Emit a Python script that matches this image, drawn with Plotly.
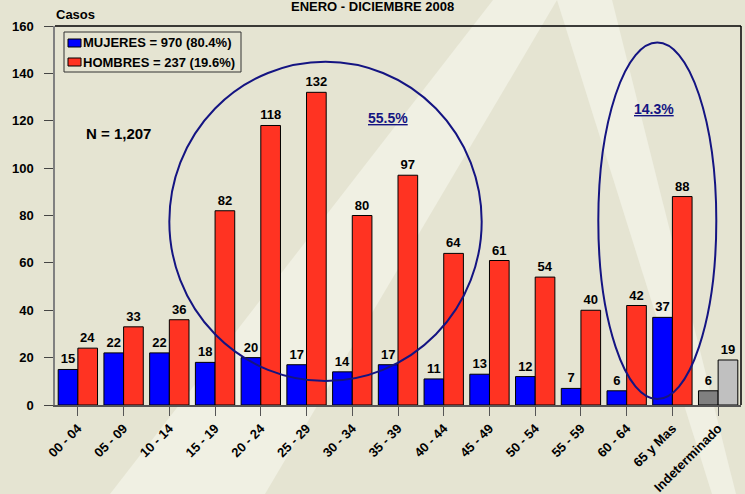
import plotly.graph_objects as go

# datos
categories = ['00 - 04', '05 - 09', '10 - 14', '15 - 19', '20 - 24', '25 - 29', '30 - 34',
              '35 - 39', '40 - 44', '45 - 49', '50 - 54', '55 - 59', '60 - 64', '65 y Mas',
              'Indeterminado']
mujeres = [15, 22, 22, 18, 20, 17, 14, 17, 11, 13, 12, 7, 6, 37, 6]
hombres = [24, 33, 36, 82, 118, 132, 80, 97, 64, 61, 54, 40, 42, 88, 19]
legend_labels = ['MUJERES = 970 (80.4%)', 'HOMBRES = 237 (19.6%)']
total_label = 'N = 1,207'
pct_labels = ['55.5%', '14.3%']
title_text = 'ENERO - DICIEMBRE 2008'
y_title = 'Casos'

W, H = 745, 494
ML, MR, MT, MB = 55, 4, 26, 89
PW, PH = W - ML - MR, H - MT - MB


def px(x):
    # pixel -> paper x
    return (x - ML) / PW


def py(y):
    # pixel -> paper y
    return (H - MB - y) / PH


BG = '#E5E4D2'
LIGHT = '#F0F0E3'
BLUE = '#0000FF'
RED = '#FF3322'
NAVY = '#141482'

mujeres_colors = [BLUE] * (len(categories) - 1) + ['#808080']
hombres_colors = [RED] * (len(categories) - 1) + ['#C0C0C0']

fig = go.Figure()

fig.add_trace(go.Bar(x=categories, y=mujeres, name=legend_labels[0],
                     marker=dict(color=mujeres_colors, line=dict(color='black', width=1)),
                     text=mujeres, textposition='outside', constraintext='none',
                     textfont=dict(size=13, color='black', weight='bold'),
                     cliponaxis=False, showlegend=False))
fig.add_trace(go.Bar(x=categories, y=hombres, name=legend_labels[1],
                     marker=dict(color=hombres_colors, line=dict(color='black', width=1)),
                     text=hombres, textposition='outside', constraintext='none',
                     textfont=dict(size=13, color='black', weight='bold'),
                     cliponaxis=False, showlegend=False))

shapes = []

# rayos claros del fondo
def poly(pts):
    return 'M ' + ' L '.join('{:.4f},{:.4f}'.format(px(a), py(b)) for a, b in pts) + ' Z'

shapes.append(dict(type='path', xref='paper', yref='paper', layer='below',
                   path=poly([(493, 0), (557, 0), (265, 494), (110, 494)]),
                   fillcolor=LIGHT, line=dict(width=0)))
shapes.append(dict(type='path', xref='paper', yref='paper', layer='below',
                   path=poly([(557, 0), (612, 0), (736, 494), (712, 494)]),
                   fillcolor=LIGHT, line=dict(width=0)))

# marco superior y derecho
shapes.append(dict(type='line', xref='paper', yref='paper', x0=0, x1=1, y0=1, y1=1,
                   line=dict(color='black', width=1.5)))
shapes.append(dict(type='line', xref='paper', yref='paper', x0=1, x1=1, y0=0, y1=1,
                   line=dict(color='black', width=1.5)))

# elipses
shapes.append(dict(type='circle', xref='x', yref='y', x0=2.0, x1=8.83, y0=10.1, y1=144.9,
                   line=dict(color=NAVY, width=2)))
shapes.append(dict(type='circle', xref='x', yref='y', x0=11.38, x1=13.96, y0=2.5, y1=153,
                   line=dict(color=NAVY, width=2)))

# leyenda manual
shapes.append(dict(type='rect', xref='paper', yref='paper', x0=px(64), x1=px(241),
                   y0=py(72), y1=py(32), fillcolor=BG, line=dict(color='#333333', width=1)))
shapes.append(dict(type='rect', xref='paper', yref='paper', x0=px(68), x1=px(81),
                   y0=py(47), y1=py(39), fillcolor=BLUE, line=dict(color='black', width=1)))
shapes.append(dict(type='rect', xref='paper', yref='paper', x0=px(68), x1=px(81),
                   y0=py(66), y1=py(58), fillcolor=RED, line=dict(color='black', width=1)))

annotations = [
    dict(text=legend_labels[0], xref='paper', yref='paper', x=px(81), y=py(43),
         xanchor='left', yanchor='middle', showarrow=False,
         font=dict(size=13, color='black', weight='bold')),
    dict(text=legend_labels[1], xref='paper', yref='paper', x=px(81), y=py(62),
         xanchor='left', yanchor='middle', showarrow=False,
         font=dict(size=13, color='black', weight='bold')),
    dict(text=total_label, xref='x', yref='y', x=0.88, y=114.5, showarrow=False,
         font=dict(size=15, color='black', weight='bold')),
    dict(text='<u>' + pct_labels[0] + '</u>', xref='x', yref='y', x=6.79, y=121, showarrow=False,
         font=dict(size=14, color=NAVY, weight='bold')),
    dict(text='<u>' + pct_labels[1] + '</u>', xref='x', yref='y', x=12.6, y=125, showarrow=False,
         font=dict(size=14, color=NAVY, weight='bold')),
    dict(text=title_text, xref='paper', yref='paper', x=px(372.6), y=py(16),
         xanchor='center', yanchor='bottom', showarrow=False,
         font=dict(size=13, color='black', weight='bold')),
    dict(text=y_title, xref='paper', yref='paper', x=px(75.5), y=py(14),
         xanchor='center', yanchor='middle', showarrow=False,
         font=dict(size=13, color='black', weight='bold')),
]

fig.update_layout(
    width=W, height=H,
    margin=dict(l=ML, r=MR, t=MT, b=MB),
    paper_bgcolor=BG, plot_bgcolor='rgba(0,0,0,0)',
    font=dict(family='Arial, Liberation Sans, sans-serif', color='black'),
    barmode='group', bargap=0.14, bargroupgap=0,
    showlegend=False,
    shapes=shapes, annotations=annotations,
    xaxis=dict(type='category', range=[-0.5, 14.5], showline=True, linecolor='#555555',
               linewidth=1.5, ticks='outside', ticklen=9, tickcolor='#555555',
               tickangle=-45, showgrid=False, zeroline=False, automargin=False,
               tickfont=dict(size=13, color='black', weight='bold')),
    yaxis=dict(range=[0, 160], dtick=20, showline=True, linecolor='#808080', linewidth=1.5,
               ticks='outside', ticklen=9, tickcolor='#444444', showgrid=False,
               zeroline=False, automargin=False, ticklabelstandoff=8,
               tickfont=dict(size=13, color='black', weight='bold')),
)

# sin margen del body para que la figura ocupe la ventana completa
fig.write_html("out.html", config={'displayModeBar': False},
               post_script="document.body.style.margin='0';")
